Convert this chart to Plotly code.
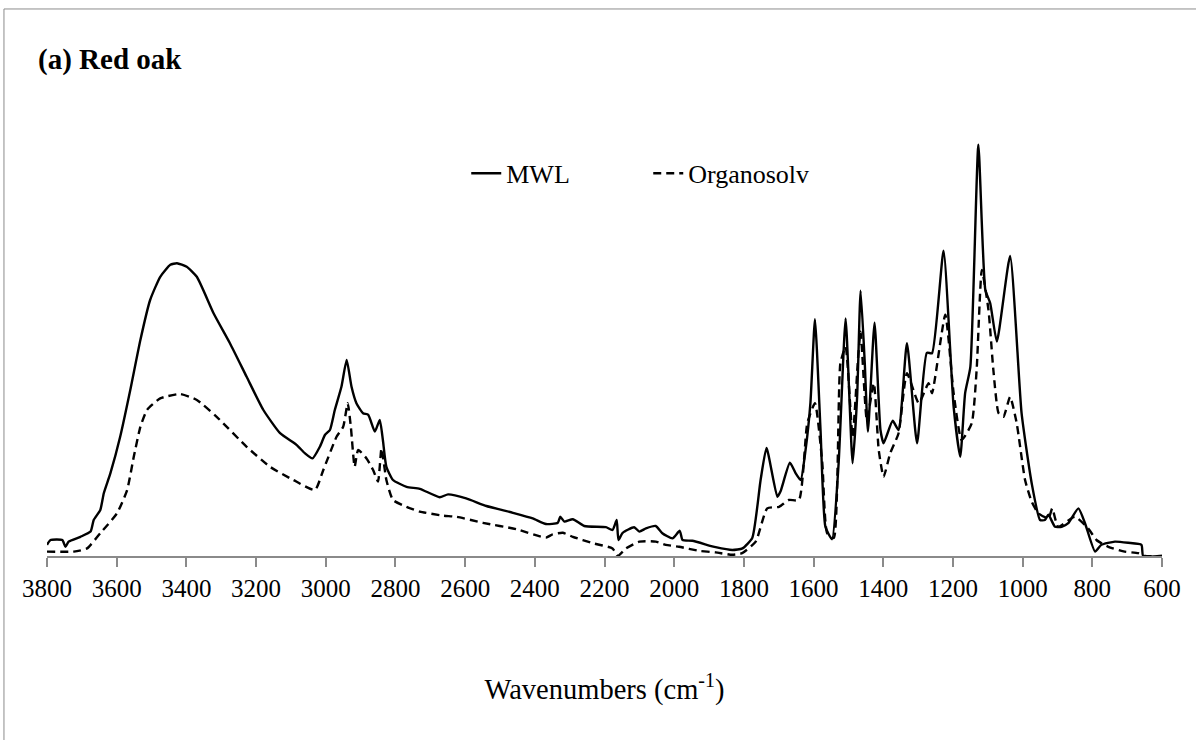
import plotly.graph_objects as go

# ---- data ----
mwl_wn = [3800, 3790, 3756, 3747, 3738, 3704, 3675, 3666, 3647, 3637, 3618, 3590, 3561, 3532, 3504,
          3475, 3446, 3427, 3399, 3370, 3322, 3275, 3227, 3179, 3131, 3084, 3060, 3038, 3017, 3002,
          2988, 2974, 2955, 2940, 2926, 2912, 2893, 2878, 2859, 2845, 2836, 2826, 2807, 2768, 2730,
          2673, 2649, 2597, 2539, 2463, 2406, 2368, 2334, 2327, 2315, 2291, 2258, 2196, 2177, 2165,
          2160, 2148, 2115, 2100, 2081, 2053, 2034, 2005, 1984, 1976, 1948, 1881, 1833, 1804, 1776,
          1752, 1735, 1704, 1695, 1668, 1652, 1637, 1623, 1609, 1596, 1580, 1566, 1547, 1528, 1508,
          1488, 1475, 1465, 1453, 1444, 1425, 1408, 1399, 1373, 1356, 1332, 1303, 1275, 1260, 1227,
          1198, 1179, 1165, 1150, 1127, 1107, 1093, 1074, 1036, 1003, 974, 950, 936, 926, 907,
          888, 869, 840, 821, 792, 774, 735, 697, 659, 654, 600]
mwl_abs = [0.028, 0.040, 0.040, 0.023, 0.036, 0.048, 0.061, 0.090, 0.115, 0.157, 0.207, 0.298, 0.415, 0.540, 0.640,
           0.698, 0.728, 0.732, 0.723, 0.698, 0.607, 0.532, 0.448, 0.365, 0.307, 0.278, 0.257, 0.244, 0.273, 0.303,
           0.315, 0.365, 0.423, 0.490, 0.423, 0.382, 0.357, 0.353, 0.311, 0.340, 0.290, 0.223, 0.190, 0.173, 0.168,
           0.147, 0.154, 0.144, 0.125, 0.108, 0.094, 0.080, 0.083, 0.098, 0.086, 0.092, 0.075, 0.072, 0.065, 0.090,
           0.040, 0.058, 0.072, 0.061, 0.069, 0.075, 0.057, 0.044, 0.063, 0.040, 0.038, 0.022, 0.015, 0.019, 0.045,
           0.190, 0.270, 0.148, 0.161, 0.233, 0.208, 0.190, 0.265, 0.383, 0.592, 0.315, 0.073, 0.042, 0.233, 0.594,
           0.232, 0.398, 0.663, 0.482, 0.311, 0.583, 0.315, 0.282, 0.338, 0.315, 0.532, 0.282, 0.508, 0.507, 0.763,
           0.373, 0.248, 0.407, 0.473, 1.028, 0.665, 0.632, 0.536, 0.750, 0.357, 0.182, 0.090, 0.090, 0.103, 0.073,
           0.073, 0.082, 0.119, 0.082, 0.011, 0.028, 0.036, 0.033, 0.028, 0.000, 0.000]

org_wn = [3800, 3723, 3685, 3647, 3599, 3570, 3551, 3532, 3513, 3475, 3418, 3370, 3313, 3227, 3160,
          3093, 3031, 3007, 2969, 2950, 2937, 2928, 2917, 2907, 2883, 2864, 2850, 2840, 2826, 2807,
          2768, 2730, 2664, 2625, 2549, 2453, 2368, 2349, 2320, 2291, 2234, 2177, 2162, 2138, 2100,
          2053, 2024, 1986, 1929, 1881, 1833, 1805, 1766, 1733, 1699, 1671, 1642, 1618, 1596, 1575,
          1561, 1542, 1523, 1508, 1488, 1472, 1465, 1447, 1427, 1413, 1399, 1380, 1356, 1332, 1298,
          1270, 1260, 1222, 1198, 1175, 1146, 1132, 1117, 1098, 1084, 1069, 1055, 1036, 1017, 993,
          974, 955, 926, 915, 898, 850, 812, 788, 754, 707, 668, 649, 600]
org_abs = [0.011, 0.011, 0.019, 0.057, 0.107, 0.165, 0.248, 0.323, 0.365, 0.394, 0.405, 0.390, 0.348, 0.273, 0.223,
           0.190, 0.165, 0.215, 0.298, 0.323, 0.382, 0.323, 0.223, 0.265, 0.244, 0.215, 0.186, 0.269, 0.190, 0.140,
           0.123, 0.111, 0.101, 0.098, 0.083, 0.067, 0.046, 0.054, 0.058, 0.048, 0.032, 0.019, 0.000, 0.019, 0.036,
           0.036, 0.028, 0.023, 0.013, 0.009, 0.003, 0.007, 0.036, 0.119, 0.123, 0.140, 0.140, 0.332, 0.382, 0.233,
           0.057, 0.045, 0.482, 0.523, 0.298, 0.498, 0.561, 0.340, 0.432, 0.265, 0.198, 0.257, 0.307, 0.457, 0.382,
           0.432, 0.407, 0.603, 0.407, 0.290, 0.332, 0.465, 0.715, 0.615, 0.465, 0.357, 0.348, 0.398, 0.332, 0.190,
           0.136, 0.107, 0.094, 0.119, 0.073, 0.098, 0.069, 0.040, 0.023, 0.011, 0.007, 0.000, 0.000]

x_ticks = list(range(3800, 599, -200))
series_names = ["MWL", "Organosolv"]
title_text = "(a) Red oak"
x_title = "Wavenumbers (cm<sup>-1</sup>)"

FONT = "Liberation Serif, Times New Roman, serif"

fig = go.Figure()
fig.add_trace(go.Scatter(x=mwl_wn, y=mwl_abs, mode="lines", name=series_names[0],
                         line=dict(color="black", width=2.4, shape="spline", smoothing=0.5),
                         hoverinfo="skip"))
fig.add_trace(go.Scatter(x=org_wn, y=org_abs, mode="lines", name=series_names[1],
                         line=dict(color="black", width=2.4, dash="8px,5px", shape="spline", smoothing=0.5),
                         hoverinfo="skip"))

fig.update_layout(
    width=1196, height=740,
    margin=dict(l=47, r=34, t=100, b=184, autoexpand=False),
    paper_bgcolor="white", plot_bgcolor="white",
    font=dict(family=FONT, size=25, color="black"),
    showlegend=True,
    legend=dict(orientation="h", x=0.376, y=0.839, xanchor="left", yanchor="middle",
                font=dict(family=FONT, size=26, color="black"), bgcolor="rgba(0,0,0,0)",
                entrywidth=137, entrywidthmode="pixels"),
    xaxis=dict(range=[3800, 600], tickvals=x_ticks, ticktext=[str(v) for v in x_ticks],
               showgrid=False, zeroline=False, showline=True, linecolor="#8a8a8a", linewidth=1.5,
               ticks="outside", ticklen=9, tickwidth=1.5, tickcolor="#8a8a8a",
               tickfont=dict(family=FONT, size=25, color="black"),
               title=dict(text=x_title, font=dict(family=FONT, size=28.5, color="black"), standoff=78),
               automargin=False),
    yaxis=dict(range=[0, 1.14], visible=False, fixedrange=True),
    annotations=[dict(text="<b>" + title_text + "</b>", xref="paper", yref="paper",
                      x=-0.010, y=1.088, xanchor="left", yanchor="middle", showarrow=False,
                      font=dict(family=FONT, size=29, color="black"))],
    shapes=[dict(type="rect", xref="paper", yref="paper", x0=-0.0386, x1=1.05, y0=-0.5, y1=1.1996,
                 line=dict(color="#8c8c8c", width=1), fillcolor="rgba(0,0,0,0)", layer="below")],
)

fig.write_html("out.html", config={"displayModeBar": False},
               post_script="document.body.style.margin='0';")
